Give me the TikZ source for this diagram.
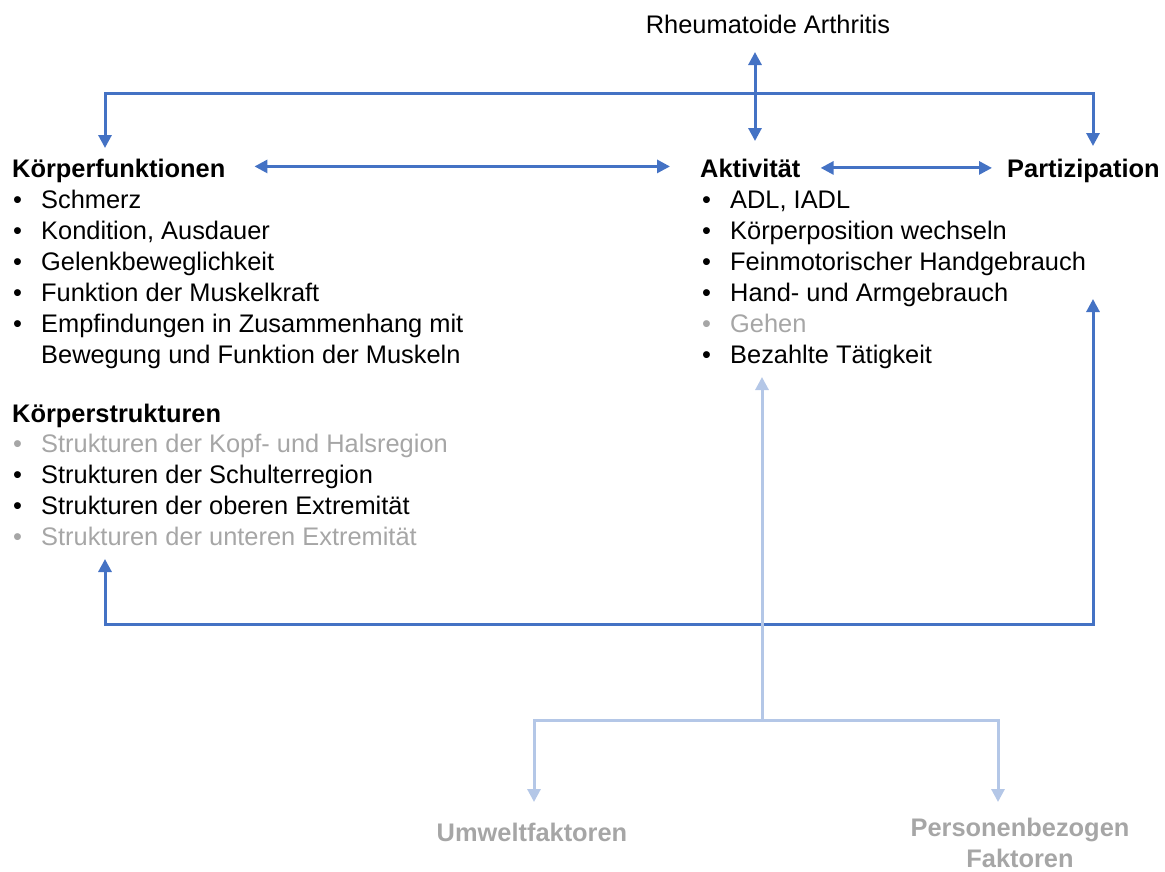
\documentclass[tikz,border=0pt]{standalone}
\usepackage{fontspec}
\setmainfont{Liberation Sans}
\usetikzlibrary{arrows.meta}

\begin{document}
\begin{tikzpicture}[x=1pt,y=-1pt]

		\definecolor{blueIcf}{RGB}{68,114,196}
		\definecolor{lightIcf}{RGB}{180,199,231}
		\definecolor{grayIcf}{RGB}{166,166,166}

		\tikzset{
			txt/.style={inner sep=0pt, anchor=base west, font=\fontsize{25.4}{31}\selectfont},
			head/.style={txt, font=\fontsize{25.4}{31}\selectfont\bfseries},
			faded/.style={txt, grayIcf},
			link/.style={blueIcf, line width=3pt},
			soft/.style={lightIcf, line width=3pt},
			tip/.style={-{Triangle[width=13pt,length=13pt]}},
			tips/.style={{Triangle[width=13pt,length=13pt]}-{Triangle[width=13pt,length=13pt]}}
		}

		\useasboundingbox (0,0) rectangle (1165,871);

		%\draw[step=100,gray,very thin] (0,0) grid (1165,871);

		\node[txt, anchor=base] (ra) at (768,33) {Rheumatoide Arthritis};

		\node[head] (kf) at (12,177) {Körperfunktionen};
		\node[head] (ak) at (700,177) {Aktivität};
		\node[head] (pa) at (1007,177) {Partizipation};

		% Koerperfunktionen
		\node[txt] (b1) at (13,208) {•};
			\node[txt] (kf1) at (41,208) {Schmerz};
		\node[txt] (b2) at (13,239) {•};
			\node[txt] (kf2) at (41,239) {Kondition, Ausdauer};
		\node[txt] (b3) at (13,270) {•};
			\node[txt] (kf3) at (41,270) {Gelenkbeweglichkeit};
		\node[txt] (b4) at (13,301) {•};
			\node[txt] (kf4) at (41,301) {Funktion der Muskelkraft};
		\node[txt] (b5) at (13,332) {•};
			\node[txt] (kf5) at (41,332) {Empfindungen in Zusammenhang mit};
			\node[txt] (kf6) at (41,363) {Bewegung und Funktion der Muskeln};

		% Koerperstrukturen
		\node[head] (ks) at (12,422) {Körperstrukturen};
		\node[faded] (c1) at (13,452) {•};
			\node[faded] (ks1) at (41,452) {Strukturen der Kopf- und Halsregion};
		\node[txt] (c2) at (13,483) {•};
			\node[txt] (ks2) at (41,483) {Strukturen der Schulterregion};
		\node[txt] (c3) at (13,514) {•};
			\node[txt] (ks3) at (41,514) {Strukturen der oberen Extremität};
		\node[faded] (c4) at (13,545) {•};
			\node[faded] (ks4) at (41,545) {Strukturen der unteren Extremität};

		% Aktivitaet
		\node[txt] (d1) at (702,208) {•};
			\node[txt] (ak1) at (730,208) {ADL, IADL};
		\node[txt] (d2) at (702,239) {•};
			\node[txt] (ak2) at (730,239) {Körperposition wechseln};
		\node[txt] (d3) at (702,270) {•};
			\node[txt] (ak3) at (730,270) {Feinmotorischer Handgebrauch};
		\node[txt] (d4) at (702,301) {•};
			\node[txt] (ak4) at (730,301) {Hand- und Armgebrauch};
		\node[faded] (d5) at (702,332) {•};
			\node[faded] (ak5) at (730,332) {Gehen};
		\node[txt] (d6) at (702,363) {•};
			\node[txt] (ak6) at (730,363) {Bezahlte Tätigkeit};

		% Kontextfaktoren
		\node[head, grayIcf, anchor=base] (uw) at (532,841) {Umweltfaktoren};
		\node[head, grayIcf, anchor=center, align=center] (pb) at (1020,843) {Personenbezogen\\Faktoren};

		% connectors
		\coordinate (raTip) at (755,52);
		\coordinate (akTip) at (755,141);
		\coordinate (kfTip) at (105,148);
		\coordinate (topLeft) at (105,93);
		\coordinate (topRight) at (1093,93);
		\coordinate (paTip) at (1093,146);
		\coordinate (loopLeft) at (105,624);
		\coordinate (loopRight) at (1093,624);
		\coordinate (ksTip) at (105,559);
		\coordinate (paLow) at (1093,299);
		\coordinate (envTop) at (762,377);
		\coordinate (envMid) at (762,720);
		\coordinate (uwCorner) at (534,720);
		\coordinate (pbCorner) at (998,720);
		\coordinate (uwTip) at (534,802);
		\coordinate (pbTip) at (998,802);

		\draw[link, tips] (raTip) -- (akTip);
		\draw[link, tips] (kfTip) -- (topLeft) -- (topRight) -- (paTip);
		\draw[link, tips] ([xshift=29pt,yshift=4pt]kf.east) -- ([xshift=-30pt,yshift=4pt]kf.east -| ak.west);
		\draw[link, tips] ([xshift=20pt]ak.east) -- ([xshift=-15pt]ak.east -| pa.west);
		\draw[link, tips] (ksTip) -- (loopLeft) -- (loopRight) -- (paLow);

		\draw[soft, tip] (envMid) -- (envTop);
		\draw[soft, tips] (uwTip) -- (uwCorner) -- (pbCorner) -- (pbTip);

	\end{tikzpicture}
\end{document}
